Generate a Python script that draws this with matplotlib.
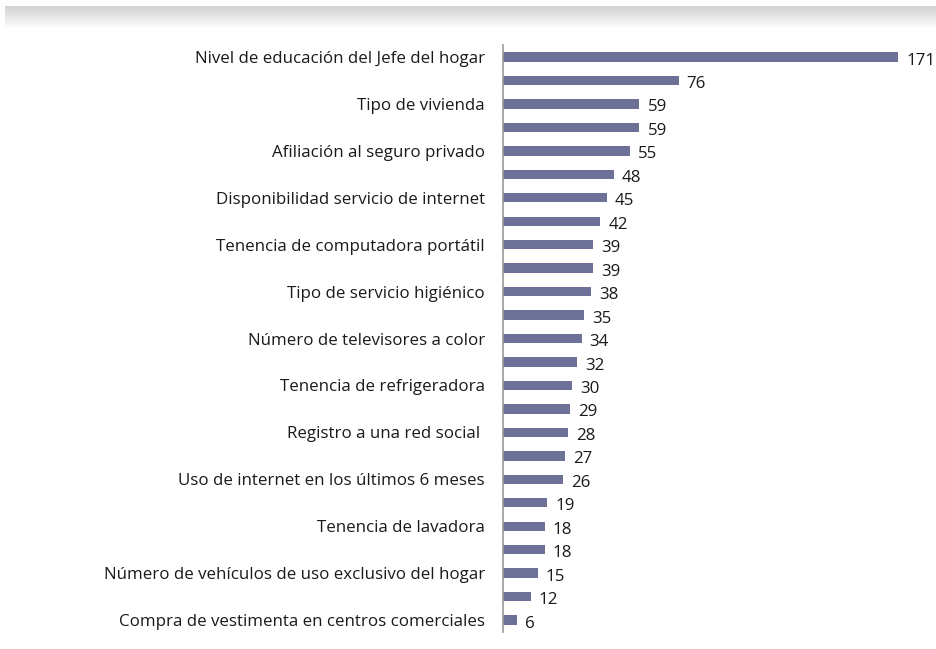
import numpy as np
import matplotlib
matplotlib.use("Agg")
import matplotlib.pyplot as plt

values = [171, 76, 59, 59, 55, 48, 45, 42, 39, 39, 38, 35, 34, 32, 30,
          29, 28, 27, 26, 19, 18, 18, 15, 12, 6]
labels = ["Nivel de educación del Jefe del hogar", "",
          "Tipo de vivienda", "",
          "Afiliación al seguro privado", "",
          "Disponibilidad servicio de internet", "",
          "Tenencia de computadora portátil", "",
          "Tipo de servicio higiénico", "",
          "Número de televisores a color", "",
          "Tenencia de refrigeradora", "",
          "Registro a una red social ", "",
          "Uso de internet en los últimos 6 meses", "",
          "Tenencia de lavadora", "",
          "Número de vehículos de uso exclusivo del hogar", "",
          "Compra de vestimenta en centros comerciales"]

plt.rcParams['font.family'] = ['Open Sans', 'DejaVu Sans']

fig = plt.figure(figsize=(9.36, 6.49), dpi=100)

# grey shadow band at the top
band = fig.add_axes([0.005, 0.955, 0.995, 0.035])
grad = np.linspace(0.82, 1.0, 50).reshape(-1, 1)
band.imshow(grad, aspect='auto', cmap='gray', vmin=0, vmax=1,
            extent=[0, 1, 0, 1], origin='upper')
band.axis('off')

ax = fig.add_axes([503 / 936, 0.0265, 416 / 936, 0.9037])
y = np.arange(len(values))
ax.barh(y, values, height=0.4, color='#6d7197')
ax.set_ylim(24.5, -0.5)
ax.set_xlim(0, 180)
ax.set_yticks(y)
ax.set_yticklabels(labels, fontsize=12.2, color='#1a1a1a')
ax.tick_params(axis='y', length=0, pad=13)
ax.set_xticks([])
for s in ['top', 'right', 'bottom']:
    ax.spines[s].set_visible(False)
ax.spines['left'].set_color('#999999')
ax.spines['left'].set_linewidth(1.2)

for yi, v in zip(y, values):
    ax.text(v + 3.5, yi + 0.15, str(v), va='center', ha='left',
            fontsize=12.2, color='#1a1a1a')

fig.savefig('out.png', dpi=100)
